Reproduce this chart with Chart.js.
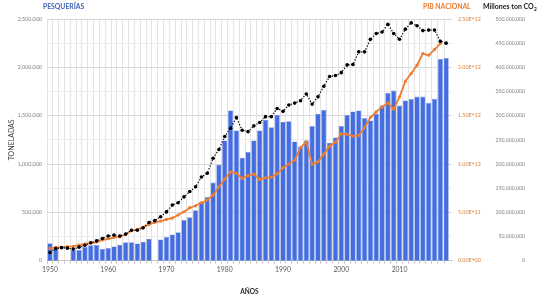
<!DOCTYPE html>
<html><head><meta charset="utf-8">
<script src="https://cdn.jsdelivr.net/npm/chart.js@4"></script>
<style>html,body{margin:0;padding:0;background:#fff;}#wrap{width:547px;height:301px;}</style>
</head><body><div id="wrap"><canvas id="c" width="547" height="301"></canvas></div>
<script>
const years = [1950,1951,1952,1953,1954,1955,1956,1957,1958,1959,
  1960,1961,1962,1963,1964,1965,1966,1967,1968,1969,
  1970,1971,1972,1973,1974,1975,1976,1977,1978,1979,
  1980,1981,1982,1983,1984,1985,1986,1987,1988,1989,
  1990,1991,1992,1993,1994,1995,1996,1997,1998,1999,
  2000,2001,2002,2003,2004,2005,2006,2007,2008,2009,
  2010,2011,2012,2013,2014,2015,2016,2017,2018];
// PESQUERÍAS (toneladas)
const pesquerias = [180000,122000,null,null,113000,110000,144000,160000,162000,121000,
  131000,148000,165000,190000,190000,179000,196000,227000,null,220000,
  244000,272000,293000,420000,450000,523000,608000,660000,808000,994000,
  1244000,1554000,1347000,1066000,1124000,1244000,1347000,1458000,1381000,1509000,
  1437000,1443000,1234000,1182000,1244000,1392000,1520000,1561000,1220000,1275000,
  1392000,1509000,1543000,1554000,1475000,1450000,1520000,1605000,1736000,1760000,
  1605000,1657000,1674000,1698000,1698000,1633000,1674000,2087000,2097000];
// PIB NACIONAL
const pibNacional = [0.128e12,0.138e12,0.138e12,0.145e12,0.149e12,0.162e12,0.173e12,0.183e12,0.193e12,0.214e12,
  0.227e12,0.242e12,0.248e12,0.273e12,0.310e12,0.324e12,0.345e12,0.375e12,0.397e12,0.410e12,
  0.427e12,0.441e12,0.472e12,0.506e12,0.548e12,0.568e12,0.599e12,0.627e12,0.679e12,0.765e12,
  0.844e12,0.919e12,0.903e12,0.851e12,0.880e12,0.896e12,0.841e12,0.857e12,0.865e12,0.899e12,
  0.961e12,0.999e12,1.040e12,1.167e12,1.229e12,0.996e12,1.023e12,1.102e12,1.185e12,1.226e12,
  1.312e12,1.309e12,1.288e12,1.295e12,1.378e12,1.481e12,1.539e12,1.591e12,1.632e12,1.567e12,
  1.694e12,1.856e12,1.936e12,2.022e12,2.143e12,2.125e12,2.184e12,2.246e12,null];
// Millones ton CO2 (toneladas)
const co2 = [17e6,25e6,27e6,26e6,24e6,28e6,32e6,37e6,41e6,46e6,
  51e6,53e6,51e6,55e6,63e6,63e6,68e6,79e6,83e6,91e6,
  101e6,115e6,120e6,132e6,143e6,153e6,173e6,181e6,212e6,230e6,
  257e6,274e6,296e6,270e6,267e6,279e6,286e6,298e6,298e6,315e6,
  309e6,322e6,326e6,331e6,345e6,324e6,339e6,361e6,381e6,383e6,
  389e6,405e6,406e6,432e6,432e6,458e6,470e6,473e6,489e6,470e6,
  458e6,479e6,492e6,486e6,476e6,477e6,477e6,454e6,450e6];

const FONT = 'Lato';
function sci(v){
  const parts = Number(v).toExponential(2).split('e');
  const n = parseInt(parts[1],10);
  return parts[0] + 'E' + (n<0?'-':'+') + String(Math.abs(n)).padStart(2,'0');
}
function fmt(v){ return Number(v).toLocaleString('en-US'); }

const topLabels = {
  id:'topLabels',
  afterDraw(chart){
    const ctx = chart.ctx, a = chart.chartArea;
    ctx.save();
    ctx.textBaseline = 'middle';
    ctx.textAlign = 'left';
    ctx.font = 'bold 6.8px ' + FONT;
    ctx.fillStyle = '#3F63B8';
    ctx.fillText('PESQUERÍAS', a.left - 4, 7);
    ctx.fillStyle = '#E8782C';
    ctx.fillText('PIB NACIONAL', 423, 7);
    ctx.fillStyle = '#1a1a1a';
    ctx.font = 'bold 7px ' + FONT;
    const t = 'Millones ton CO';
    ctx.fillText(t, 483, 7);
    const w = ctx.measureText(t).width;
    ctx.font = 'bold 4.8px ' + FONT;
    ctx.fillText('2', 483 + w + 0.3, 9);
    ctx.restore();
  }
};

new Chart(document.getElementById('c'), {
  data: {
    labels: years,
    datasets: [
      { type:'line', label:'Millones ton CO2', data: co2, yAxisID:'co2', order:1,
        borderColor:'#000', borderWidth:1.2, borderDash:[1.3,1.7], tension:0,
        pointRadius:1.8, pointBackgroundColor:'#000', pointBorderWidth:0 },
      { type:'line', label:'PIB NACIONAL', data: pibNacional, yAxisID:'pib', order:2,
        borderColor:'#ED7D31', borderWidth:1.8, tension:0,
        pointRadius:1.6, pointBackgroundColor:'#ED7D31', pointBorderWidth:0 },
      { type:'bar', label:'PESQUERÍAS', data: pesquerias, yAxisID:'y', order:3,
        backgroundColor:'#446DE0', borderColor:'#7F98EA', borderWidth:0.6,
        barPercentage:0.9, categoryPercentage:1,
        clip:{left:0, top:false, right:false, bottom:false} }
    ]
  },
  options: {
    responsive:false, animation:false,
    layout:{ padding:{ top:19, right:22, bottom:0, left:0 } },
    plugins:{ legend:{display:false}, tooltip:{enabled:false} },
    scales:{
      x:{ type:'linear', position:'bottom', min:1950, max:2018.5,
        ticks:{ stepSize:1, autoSkip:false, maxRotation:0, padding:2,
          font:{family:FONT, size:6.8}, color:'#595959',
          callback:(v)=> (v % 10 === 0 ? String(v) : '') },
        grid:{ color:'#e3e3e3', drawTicks:true, tickLength:3, tickColor:'#c8c8c8' },
        border:{ display:true, color:'#c8c8c8' },
        title:{ display:true, text:'AÑOS', font:{family:FONT, size:6.5, weight:'bold'}, color:'#262626', padding:{top:0,bottom:4.8} },
        afterFit:(s)=>{ s.height = 40.3; } },
      y:{ position:'left', min:0, max:2500000,
        ticks:{ stepSize:500000, padding:5, font:{family:FONT, size:5.4}, color:'#7f7f7f', callback:(v)=>fmt(v) },
        grid:{ display:false, drawTicks:false },
        border:{ display:false },
        title:{ display:true, text:'TONELADAS', font:{family:FONT, size:7}, color:'#404040', padding:{top:8,bottom:0} },
        afterFit:(s)=>{ s.width = 47; } },
      pib:{ position:'right', weight:0, min:0, max:2.5e12,
        ticks:{ stepSize:5e11, padding:6, font:{family:FONT, size:5.3}, color:'#D9823F', callback:(v)=>sci(v) },
        grid:{ drawOnChartArea:false, drawTicks:false },
        border:{ display:false },
        afterFit:(s)=>{ s.width = 33; } },
      co2:{ position:'right', weight:1, min:0, max:5e8,
        ticks:{ stepSize:5e7, padding:3, crossAlign:'far', font:{family:FONT, size:5.2}, color:'#7f7f7f', callback:(v)=>fmt(v) },
        grid:{ drawOnChartArea:true, drawTicks:false,
          color:(c)=> (c.index % 2 === 0 ? '#d9d9d9' : '#ececec') },
        border:{ display:false },
        afterFit:(s)=>{ s.width = 40; } }
    }
  },
  plugins:[topLabels]
});
</script>
</body></html>
